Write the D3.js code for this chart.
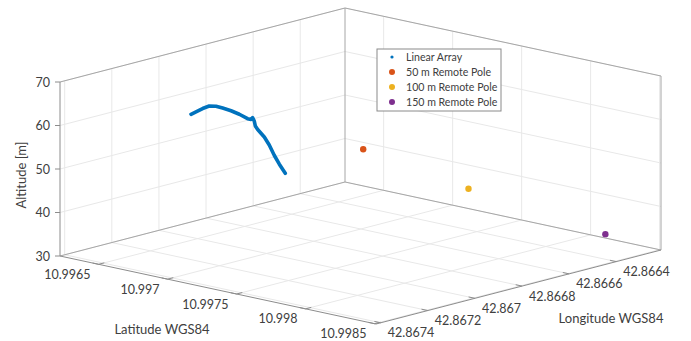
<!DOCTYPE html>
<html>
<head>
<meta charset="utf-8">
<script src="https://cdn.jsdelivr.net/npm/d3@7"></script>
<style>
  html, body { margin: 0; padding: 0; background: #fff; }
  #chart { width: 691px; height: 341px; }
  text { font-family: Lato, "Open Sans", sans-serif; fill: #404040; }
</style>
</head>
<body>
<div id="chart"></div>
<script>
// axis limits and ticks
const latDomain = [10.99622, 10.99851];
const lonDomain = [42.86742, 42.86621]; // max at the front corner
const altDomain = [30, 70];
const latTicks = [10.9965, 10.997, 10.9975, 10.998, 10.9985];
const latTickLabels = ["10.9965", "10.997", "10.9975", "10.998", "10.9985"];
const lonTicks = [42.8674, 42.8672, 42.867, 42.8668, 42.8666, 42.8664];
const lonTickLabels = ["42.8674", "42.8672", "42.867", "42.8668", "42.8666", "42.8664"];
const altTicks = [30, 40, 50, 60, 70];

// linear array track
const arrayLat = [10.996555, 10.996591, 10.996639, 10.996687, 10.996736, 10.996784, 10.996845,
  10.996905, 10.996965, 10.99699, 10.997001, 10.997013, 10.997021, 10.997038, 10.997086,
  10.997122, 10.997158, 10.997195, 10.997238];
const arrayLon = [42.86706, 42.86706, 42.86706, 42.86706, 42.86706, 42.86706, 42.86706,
  42.86706, 42.86706, 42.86706, 42.86706, 42.86706, 42.86706, 42.86706, 42.86706,
  42.86706, 42.86706, 42.86706, 42.86706];
const arrayAlt = [59.8, 60.6, 61.7, 62.6, 62.9, 62.8, 62.6, 62.2, 61.6, 61.6, 62.1, 61.4,
  60.3, 59.6, 58.2, 56.6, 54.5, 52.7, 50.9];

// remote poles
const poleNames = ["50 m Remote Pole", "100 m Remote Pole", "150 m Remote Pole"];
const poleLat = [10.99712, 10.99761, 10.99838];
const poleLon = [42.86666, 42.8665, 42.86637];
const poleAlt = [50, 42, 35];
const poleColors = ["#D95319", "#EDB120", "#7E2F8E"];
const arrayColor = "#0072BD";

function draw() {
  const w = 691, h = 341;
  const svg = d3.select("#chart").append("svg")
    .attr("width", w).attr("height", h);

  // orthographic box: origin = (lat min, lon max, alt min)
  const origin = [60, 256];
  const vLat = [316, 68];
  const vLon = [285, -74];
  const zH = 174;

  const latScale = d3.scaleLinear().domain(latDomain).range([0, 1]);
  const lonScale = d3.scaleLinear().domain(lonDomain).range([0, 1]);
  const altScale = d3.scaleLinear().domain(altDomain).range([0, 1]);

  const P = (a, b, c) => [
    origin[0] + a * vLat[0] + b * vLon[0],
    origin[1] + a * vLat[1] + b * vLon[1] - c * zH
  ];
  const project = (lat, lon, alt) => P(latScale(lat), lonScale(lon), altScale(alt));

  const seg = (g, p1, p2, color, sw) => g.append("line")
    .attr("x1", p1[0]).attr("y1", p1[1])
    .attr("x2", p2[0]).attr("y2", p2[1])
    .attr("stroke", color).attr("stroke-width", sw || 1);

  const grid = svg.append("g");
  const gridColor = "#e8e8e8";

  // back-left wall (lat = min) and back-right wall (lon = min)
  lonTicks.forEach(v => {
    const b = lonScale(v);
    seg(grid, P(0, b, 0), P(0, b, 1), gridColor);
    seg(grid, P(0, b, 0), P(1, b, 0), gridColor);
  });
  latTicks.forEach(v => {
    const a = latScale(v);
    seg(grid, P(a, 1, 0), P(a, 1, 1), gridColor);
    seg(grid, P(a, 0, 0), P(a, 1, 0), gridColor);
  });
  altTicks.forEach(v => {
    const c = altScale(v);
    seg(grid, P(0, 0, c), P(0, 1, c), gridColor);
    seg(grid, P(0, 1, c), P(1, 1, c), gridColor);
  });

  // box edges
  const box = svg.append("g");
  const boxColor = "#a6a6a6";
  seg(box, P(0, 0, 1), P(0, 1, 1), boxColor);
  seg(box, P(0, 1, 1), P(1, 1, 1), boxColor);
  seg(box, P(0, 1, 0), P(0, 1, 1), boxColor);
  seg(box, P(1, 1, 0), P(1, 1, 1), boxColor);
  seg(box, P(0, 0, 0), P(0, 1, 0), boxColor);
  seg(box, P(0, 1, 0), P(1, 1, 0), boxColor);
  // axis lines
  const axisColor = "#8c8c8c";
  seg(box, P(0, 0, 0), P(0, 0, 1), axisColor);
  seg(box, P(0, 0, 0), P(1, 0, 0), axisColor);
  seg(box, P(1, 0, 0), P(1, 1, 0), axisColor);

  // ticks and labels
  const labels = svg.append("g").style("font-size", "12.5px");
  altTicks.forEach(v => {
    const p = P(0, 0, altScale(v));
    seg(box, [p[0] - 5, p[1]], p, axisColor);
    labels.append("text").attr("x", p[0] - 10).attr("y", p[1] + 4.5)
      .attr("text-anchor", "end").text(v);
  });
  latTicks.forEach((v, i) => {
    const a = latScale(v);
    const p = P(a, 0, 0);
    seg(box, p, P(a, 0.02, 0), axisColor);
    seg(box, p, [p[0] - 6, p[1] - 1.3], axisColor);
    labels.append("text").attr("x", p[0] - 8).attr("y", p[1] + 14.5)
      .attr("text-anchor", "end").text(latTickLabels[i]);
  });
  lonTicks.forEach((v, i) => {
    const b = lonScale(v);
    const p = P(1, b, 0);
    seg(box, p, P(0.98, b, 0), axisColor);
    labels.append("text").attr("x", p[0] + 7).attr("y", p[1] + 14.5)
      .attr("text-anchor", "start").text(lonTickLabels[i]);
  });

  const titles = svg.append("g").style("font-size", "13px");
  titles.append("text").attr("x", 162).attr("y", 334)
    .attr("text-anchor", "middle").text("Latitude WGS84");
  titles.append("text").attr("x", 611).attr("y", 323)
    .attr("text-anchor", "middle").text("Longitude WGS84");
  titles.append("text").attr("transform", "translate(26,175) rotate(-90)")
    .attr("text-anchor", "middle").text("Altitude [m]");

  // linear array
  const trackPts = arrayLat.map((d, i) => project(d, arrayLon[i], arrayAlt[i]));
  svg.append("path")
    .attr("d", d3.line()(trackPts))
    .attr("fill", "none")
    .attr("stroke", arrayColor)
    .attr("stroke-width", 3.6)
    .attr("stroke-linecap", "round")
    .attr("stroke-linejoin", "round");

  // poles
  svg.selectAll("circle.pole")
    .data(poleNames)
    .join("circle")
    .attr("class", "pole")
    .attr("cx", (d, i) => project(poleLat[i], poleLon[i], poleAlt[i])[0])
    .attr("cy", (d, i) => project(poleLat[i], poleLon[i], poleAlt[i])[1])
    .attr("r", 3.2)
    .attr("fill", (d, i) => poleColors[i]);

  // legend
  const lg = svg.append("g").attr("transform", "translate(377,49)");
  lg.append("rect").attr("width", 124).attr("height", 62)
    .attr("fill", "#fff").attr("stroke", "#8a8a8a").attr("stroke-width", 1);
  const items = ["Linear Array"].concat(poleNames);
  const itemColors = [arrayColor].concat(poleColors);
  items.forEach((name, i) => {
    const y = 8 + i * 15;
    lg.append("circle").attr("cx", 15).attr("cy", y)
      .attr("r", i === 0 ? 1.6 : 3).attr("fill", itemColors[i]);
    lg.append("text").attr("x", 29).attr("y", y + 4)
      .style("font-size", "10.6px").text(name);
  });
}

draw();
</script>
</body>
</html>
